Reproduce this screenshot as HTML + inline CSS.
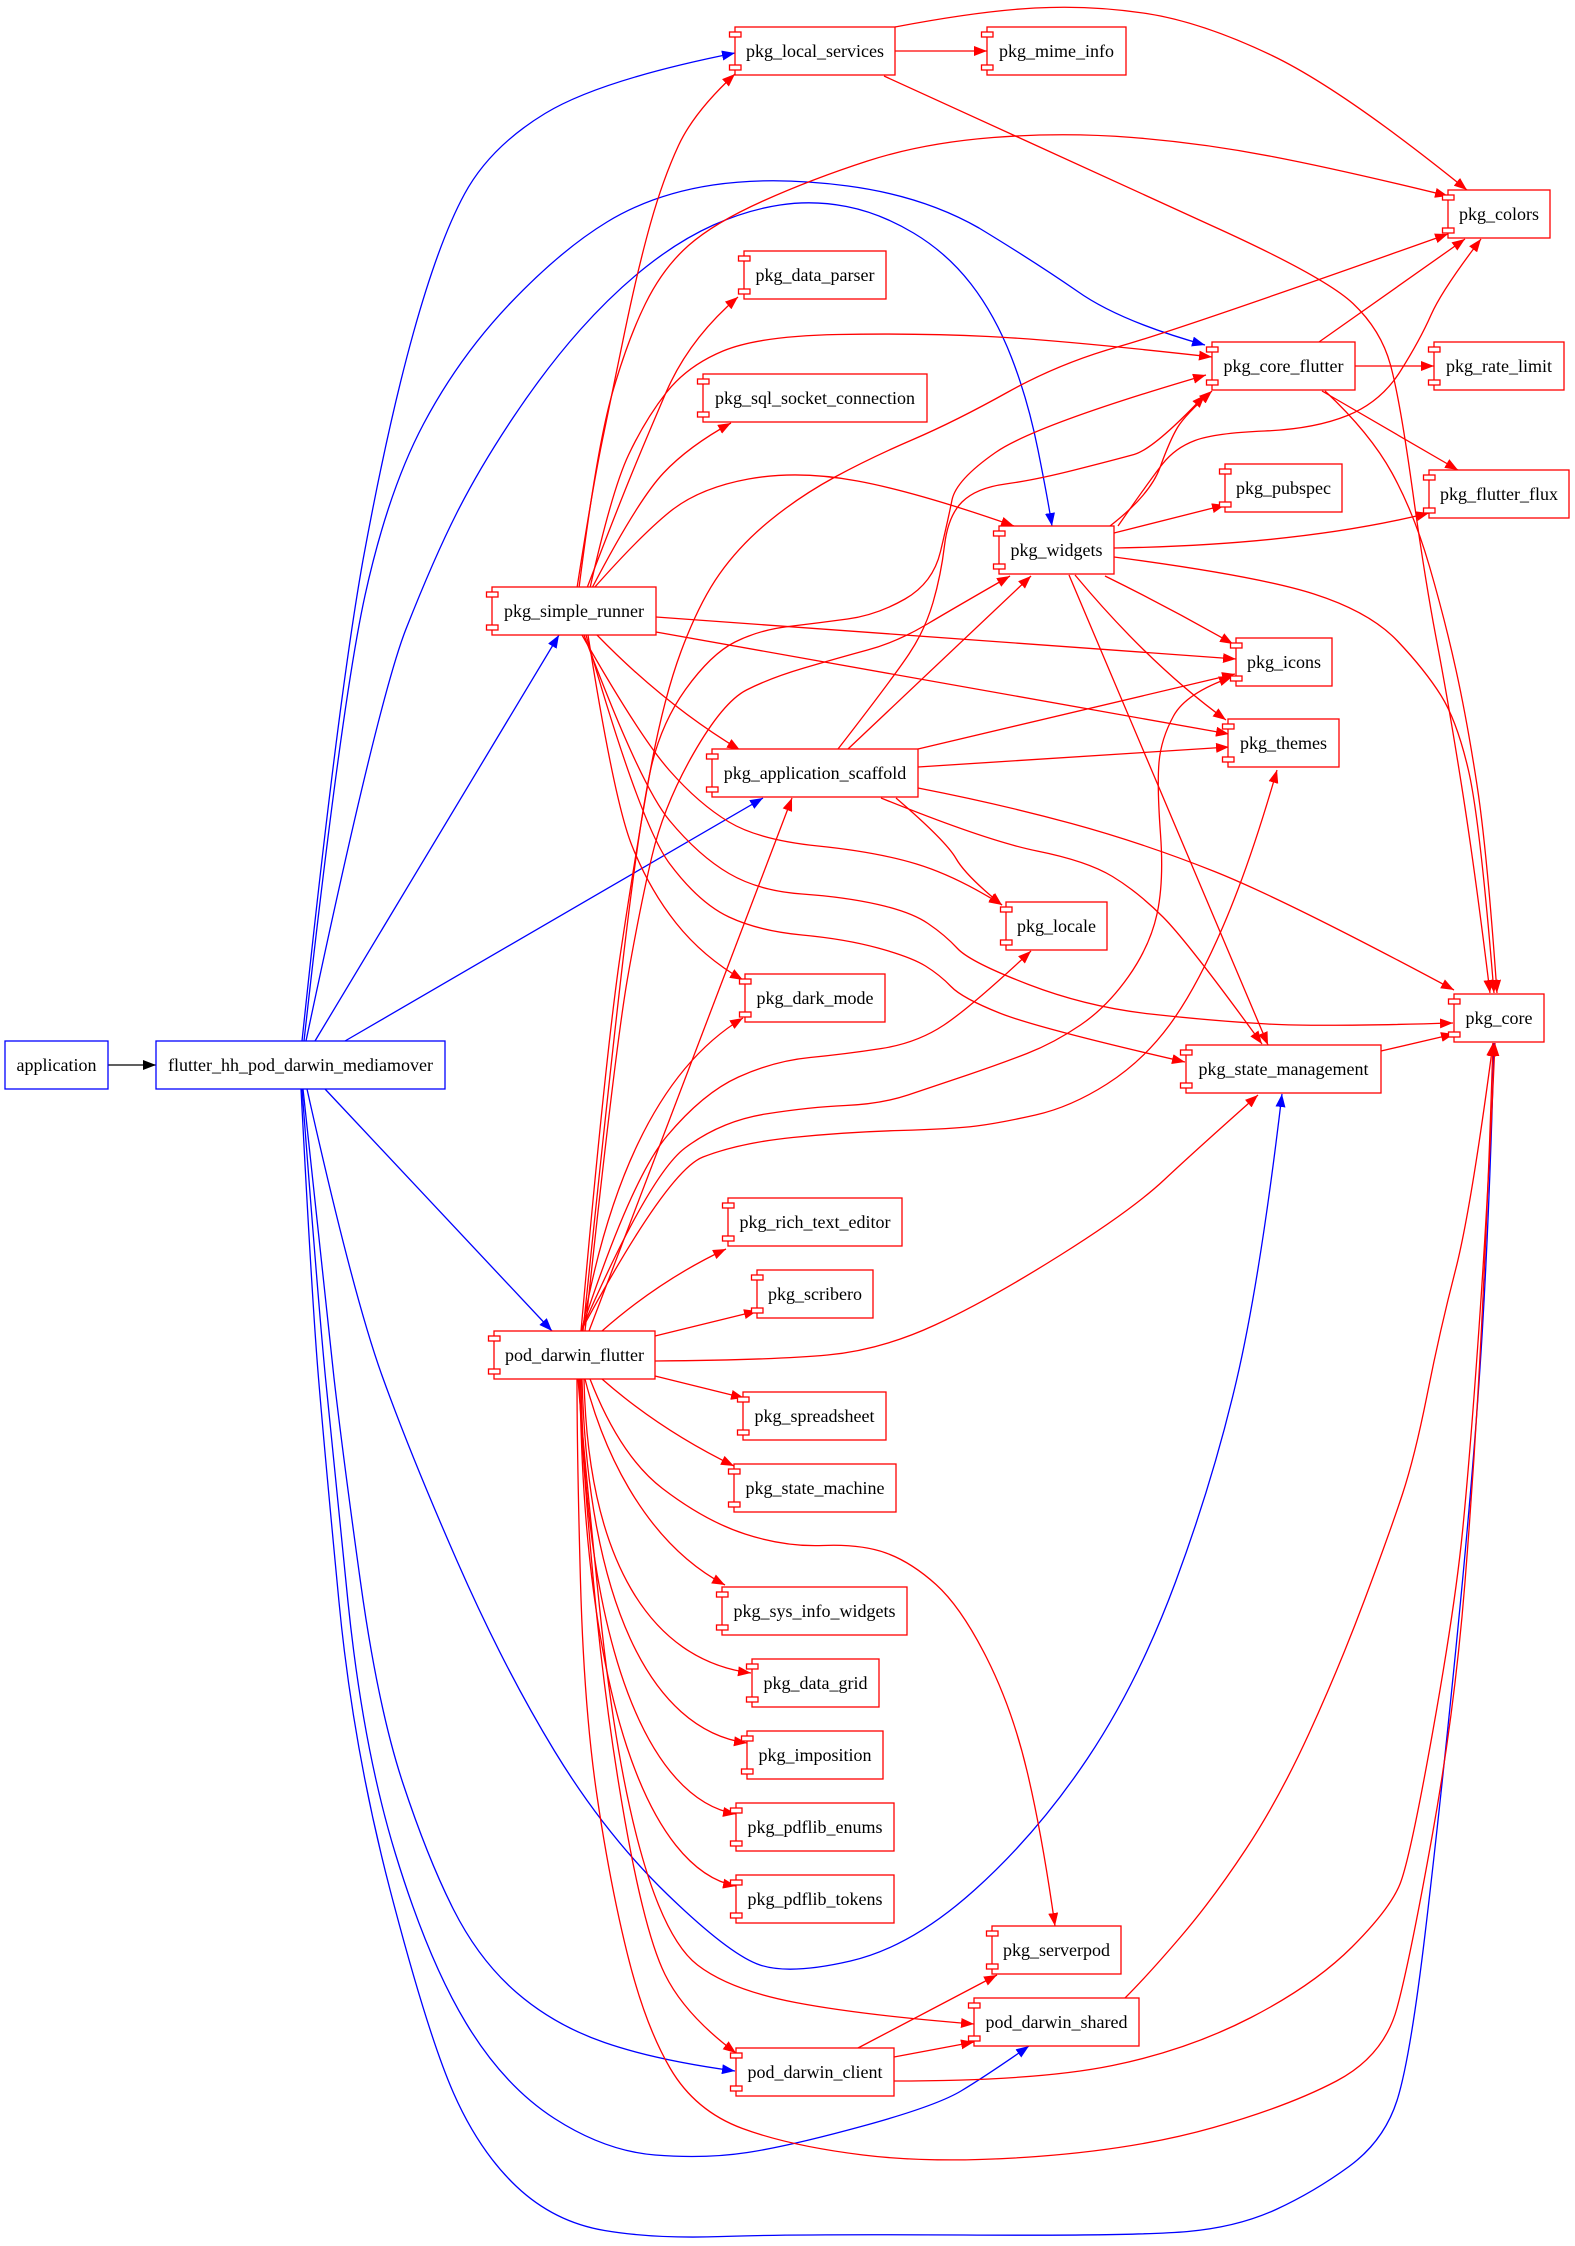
<!DOCTYPE html>
<html><head><meta charset="utf-8"><style>
body{margin:0;background:#fff}
svg{display:block}
text{font-family:"Liberation Serif","Times New Roman",serif;font-size:18px;fill:#000;stroke:none;text-anchor:middle}
.n rect{fill:#fff;stroke:#f00;stroke-width:1.3}
.b rect{fill:#fff;stroke:#00f;stroke-width:1.3}
</style></head><body>
<svg xmlns="http://www.w3.org/2000/svg" width="1575" height="2246">
<defs>
<marker id="ar" markerUnits="userSpaceOnUse" markerWidth="13" markerHeight="10" viewBox="0 0 13 10" refX="13" refY="5" orient="auto"><path d="M0,0L13,5L0,10z" fill="#f00"/></marker>
<marker id="ab" markerUnits="userSpaceOnUse" markerWidth="13" markerHeight="10" viewBox="0 0 13 10" refX="13" refY="5" orient="auto"><path d="M0,0L13,5L0,10z" fill="#00f"/></marker>
<marker id="ak" markerUnits="userSpaceOnUse" markerWidth="13" markerHeight="10" viewBox="0 0 13 10" refX="13" refY="5" orient="auto"><path d="M0,0L13,5L0,10z" fill="#000"/></marker>
</defs>
<rect width="1575" height="2246" fill="#fff"/>

<path d="M108,1065 L156,1065" fill="none" stroke="#000" stroke-width="1.3" marker-end="url(#ak)"/>

<g fill="none" stroke="#00f" stroke-width="1.3" marker-end="url(#ab)">
<path d="M302,1041 Q338,700 363,560 Q388,424 413.5,332.5 Q439,241 464.5,194 Q490,147 545,113.5 Q600,80 735,53"/>
<path d="M304,1041 Q342,700 365,595.5 Q388,491 423.5,424 Q459,357 510,303.5 Q561,250 607,222 Q653,194 713,185 Q773,176 848,186 Q923,196 979,228 Q1035,262 1077,291 Q1119,321 1205,345"/>
<path d="M306,1041 Q378,700 406,629 Q434,558 457,512.5 Q480,467 513.5,417 Q547,367 580,330 Q613,293 646.5,266.5 Q680,240 713.5,225 Q747,210 780,205 Q813,200 846.5,206.5 Q880,213 913.5,233 Q947,253 971,284 Q995,315 1011.5,357.5 Q1028,400 1038,450 Q1048,500 1052,526"/>
<path d="M315,1041 L559,635"/>
<path d="M345,1041 L763,798"/>
<path d="M325,1089 L552,1331"/>
<path d="M307,1089 Q353,1295 382,1375.5 Q411,1456 457.5,1562 Q504,1668 554.5,1751 Q605,1834 667.5,1894.5 Q730,1955 760,1965 Q790,1975 850.5,1961 Q911,1947 974,1890.5 Q1037,1834 1087.5,1758.5 Q1138,1683 1175.5,1582 Q1213,1481 1236.5,1380.5 Q1260,1280 1282,1094"/>
<path d="M303,1089 Q325,1300 334,1378 Q343,1456 360.5,1582 Q378,1708 403,1783.5 Q428,1859 453.5,1909.5 Q479,1960 516.5,1992.5 Q554,2025 604.5,2042.5 Q655,2060 735,2071"/>
<path d="M302,1089 Q318,1300 325.5,1378 Q333,1456 348,1602 Q363,1748 395.5,1854 Q428,1960 466,2023 Q504,2086 554.5,2118.5 Q605,2151 655,2155 Q705,2159 747.5,2152.5 Q790,2146 863,2126 Q936,2106 961,2091 Q986,2076 1029,2046"/>
<path d="M301,1089 Q312,1300 318.5,1378 Q325,1456 339,1602 Q353,1748 390.5,1891.5 Q428,2035 453.5,2093 Q479,2151 516.5,2186.5 Q554,2222 604.5,2230.5 Q655,2239 722.5,2236.5 Q790,2234 964,2235 Q1138,2236 1188,2231.5 Q1238,2227 1276,2209.5 Q1314,2192 1349,2166.5 Q1384,2141 1397,2100.5 Q1410,2060 1425,1934.5 Q1440,1809 1457.5,1632.5 Q1475,1456 1482.5,1328 Q1490,1200 1494,1043"/>
</g>

<g fill="none" stroke="#f00" stroke-width="1.3" marker-end="url(#ar)">
<!-- simple_runner -->
<path d="M577,588 Q592,491 602,442 Q612,393 625,330.5 Q638,268 650.5,223.5 Q663,179 678.5,145.5 Q694,112 735,74"/>
<path d="M579,588 Q597,446 612.5,392.5 Q628,339 645.5,303.5 Q663,268 688.5,245.5 Q714,223 763,201 Q812,179 867.5,161 Q923,143 993,137.5 Q1063,132 1132.5,137.5 Q1202,143 1272,156.5 Q1342,170 1448,196"/>
<path d="M587,588 Q615,515 629,480.5 Q643,446 666,392.5 Q689,339 738,297"/>
<path d="M590,588 Q612,490 628.5,455 Q645,420 666,393 Q687,366 723,351 Q759,336 838,334.5 Q917,333 988.5,336.5 Q1060,340 1212,357"/>
<path d="M592,588 Q638,500 663.5,473 Q689,446 731,423"/>
<path d="M594,588 Q640,536 669.5,512 Q699,488 748.5,479 Q798,470 857.5,481 Q917,492 1014,526"/>
<path d="M656,617 L1236,659"/>
<path d="M656,632 L1229,734"/>
<path d="M597,635 Q665,705 740,750"/>
<path d="M582,635 Q640,737 669.5,770.5 Q699,804 729,822 Q759,840 818,846 Q877,852 916.5,864 Q956,876 1002,905"/>
<path d="M584,635 Q640,785 669.5,820.5 Q699,856 729,873.5 Q759,891 802,894 Q845,897 878,904.5 Q911,912 928,923.5 Q945,935 957.5,948.5 Q970,962 1028.5,984.5 Q1087,1007 1150.5,1014 Q1214,1021 1267.5,1024 Q1321,1027 1453,1023"/>
<path d="M586,635 Q640,824 669.5,863.5 Q699,903 729,917 Q759,931 802,935 Q845,939 878,948 Q911,957 925.5,966 Q940,975 951,986.5 Q962,998 999.5,1013 Q1037,1028 1185,1062"/>
<path d="M588,635 Q614,800 631.5,844.5 Q649,889 676,923 Q703,957 743,980"/>
<!-- local_services -->
<path d="M895,51 L987,51"/>
<path d="M895,27 Q979,11 1035,8 Q1091,5 1146.5,13.5 Q1202,22 1272,55.5 Q1342,89 1467,190"/>
<path d="M884,76 Q1100,175 1212.5,226 Q1325,277 1353,303.5 Q1381,330 1390.5,365 Q1400,400 1412.5,490 Q1425,580 1436.5,640 Q1448,700 1461.5,785 Q1475,870 1490,993"/>
<!-- core_flutter -->
<path d="M1319,342 L1465,239"/>
<path d="M1355,366 L1434,366"/>
<path d="M1322,391 L1458,470"/>
<path d="M1325,391 Q1370,433 1392,473 Q1414,513 1429.5,566.5 Q1445,620 1456,670 Q1467,720 1477,785 Q1487,850 1497,993"/>
<!-- widgets -->
<path d="M1110,526 Q1150,495 1160,467.5 Q1170,440 1177.5,427.5 Q1185,415 1212,391"/>
<path d="M1118,526 Q1150,480 1162.5,464 Q1175,448 1195,440.5 Q1215,433 1264.5,431 Q1314,429 1347.5,415.5 Q1381,402 1400.5,371 Q1420,340 1431,315 Q1442,290 1481,239"/>
<path d="M1114,533 L1225,505"/>
<path d="M1114,548 Q1300,545 1429,513"/>
<path d="M1114,557 Q1258,576 1314,594 Q1370,612 1397.5,641 Q1425,670 1441,695.5 Q1457,721 1468.5,770.5 Q1480,820 1494,993"/>
<path d="M1105,576 Q1170,608 1233,644"/>
<path d="M1075,575 Q1150,665 1226,720"/>
<path d="M1069,575 L1268,1045"/>
<!-- application_scaffold -->
<path d="M848,749 L1031,576"/>
<path d="M838,749 Q893,678 909,654 Q925,630 933,602.5 Q941,575 944.5,545.5 Q948,516 962,502 Q976,488 1005.5,484 Q1035,480 1074.5,470 Q1114,460 1134,454.5 Q1154,449 1205,395"/>
<path d="M918,749 L1235,674"/>
<path d="M918,767 L1229,747"/>
<path d="M918,788 Q1000,804 1071.5,823.5 Q1143,843 1214.5,871.5 Q1286,900 1454,990"/>
<path d="M881,798 Q987,841 1037,851 Q1087,861 1112.5,876.5 Q1138,892 1163,917 Q1188,942 1262,1044"/>
<path d="M896,798 Q946,841 956,858.5 Q966,876 1002,905"/>
<!-- pod_darwin_flutter -->
<path d="M581,1331 Q606,1050 621,950 Q636,850 649.5,775 Q663,700 681,651.5 Q699,603 719.5,574 Q740,545 770,520.5 Q800,496 835,477 Q870,458 913,439.5 Q956,421 1008,392 Q1060,363 1119,346.5 Q1178,330 1448,234"/>
<path d="M583,1331 Q612,1050 626,935 Q640,820 650,772.5 Q660,725 685.5,689.5 Q711,654 735,642 Q759,630 788.5,626.5 Q818,623 847.5,619 Q877,615 905,599 Q933,583 940.5,551.5 Q948,520 952,500 Q956,480 995.5,452.5 Q1035,425 1206,375"/>
<path d="M585,1331 Q615,1050 627.5,978.5 Q640,907 652,856 Q664,805 693.5,753.5 Q723,702 746.5,690 Q770,678 804,668 Q838,658 867.5,650 Q897,642 926.5,624.5 Q956,607 1010,576"/>
<path d="M589,1331 L792,798"/>
<path d="M582,1331 C600,1230 640,1080 743,1018"/>
<path d="M581,1331 Q631,1179 667,1136 Q703,1093 738.5,1077 Q774,1061 810,1057.5 Q846,1054 881.5,1048.5 Q917,1043 944,1025 Q971,1007 1031,951"/>
<path d="M581,1331 Q649,1175 685,1148 Q721,1121 765.5,1114 Q810,1107 845.5,1105.5 Q881,1104 908,1095 Q935,1086 967.5,1075 Q1000,1064 1027,1053.5 Q1054,1043 1080.5,1025 Q1107,1007 1128.5,976.5 Q1150,946 1157,914 Q1164,882 1160.5,834 Q1157,786 1159,762.5 Q1161,739 1173.5,716 Q1186,693 1232,677"/>
<path d="M581,1331 Q667,1171 703,1157 Q739,1143 792.5,1137.5 Q846,1132 899.5,1130.5 Q953,1129 976.5,1126 Q1000,1123 1035.5,1115 Q1071,1107 1107,1084 Q1143,1061 1169.5,1025 Q1196,989 1223,926.5 Q1250,864 1277,770"/>
<path d="M655,1361 Q774,1360 827.5,1355 Q881,1350 935,1325 Q989,1300 1060.5,1255 Q1132,1210 1164,1180 Q1196,1150 1258,1095"/>
<path d="M602,1331 Q660,1280 726,1249"/>
<path d="M655,1336 L757,1311"/>
<path d="M655,1376 L744,1398"/>
<path d="M602,1379 Q660,1430 734,1466"/>
<path d="M585,1379 C600,1440 640,1540 725,1585"/>
<path d="M584,1379 C588,1560 650,1660 751,1673"/>
<path d="M582,1379 C588,1600 650,1730 747,1743"/>
<path d="M581,1379 C585,1650 650,1800 736,1814"/>
<path d="M580,1379 C583,1700 650,1870 736,1886"/>
<path d="M590,1379 Q620,1456 662.5,1488.5 Q705,1521 745,1534 Q785,1547 823,1545.5 Q861,1544 886,1553 Q911,1562 936,1584.5 Q961,1607 986.5,1657.5 Q1012,1708 1027,1771 Q1042,1834 1055,1926"/>
<path d="M579,1379 Q582,1456 593.5,1582 Q605,1708 625,1821 Q645,1934 665,1974.5 Q685,2015 736,2053"/>
<path d="M578,1379 Q584,1456 599.5,1607 Q615,1758 640,1849 Q665,1940 697.5,1965 Q730,1990 795.5,2002.5 Q861,2015 974,2024"/>
<path d="M577,1379 Q577,1456 580.5,1582 Q584,1708 597,1796 Q610,1884 627.5,1954.5 Q645,2025 670,2068 Q695,2111 742.5,2128.5 Q790,2146 863,2155 Q936,2164 1037,2156.5 Q1138,2149 1213.5,2127.5 Q1289,2106 1336.5,2081 Q1384,2056 1397,2008 Q1410,1960 1432.5,1834 Q1455,1708 1465,1582 Q1475,1456 1481.5,1328 Q1488,1200 1493,1043"/>
<!-- pod_darwin_client -->
<path d="M894,2057 L974,2042"/>
<path d="M858,2048 L997,1975"/>
<path d="M894,2081 Q1037,2081 1112.5,2065.5 Q1188,2050 1251,2017.5 Q1314,1985 1352,1947 Q1390,1909 1400,1884 Q1410,1859 1432.5,1733 Q1455,1607 1462.5,1531.5 Q1470,1456 1479,1328 Q1488,1200 1495,1043"/>
<!-- pod_darwin_shared -->
<path d="M1125,1998 Q1148,1975 1180.5,1937 Q1213,1899 1246,1849 Q1279,1799 1309,1733.5 Q1339,1668 1364.5,1600 Q1390,1532 1402.5,1494 Q1415,1456 1427.5,1393 Q1440,1330 1455.5,1270 Q1471,1210 1493,1043"/>
<!-- state_management -->
<path d="M1381,1051 L1454,1034"/>
</g>

<!-- blue nodes -->
<g class="b">
<g transform="translate(5,1041)"><rect width="103" height="48"/><text x="51.5" y="30">application</text></g>
<g transform="translate(156,1041)"><rect width="289" height="48"/><text x="144.5" y="30">flutter_hh_pod_darwin_mediamover</text></g>
</g>

<!-- component nodes -->
<g class="n">
<g transform="translate(735,27)"><rect width="160" height="48"/><rect x="-5.5" y="5" width="11.5" height="5"/><rect x="-5.5" y="38" width="11.5" height="5"/><text x="80" y="30">pkg_local_services</text></g>
<g transform="translate(987,27)"><rect width="139" height="48"/><rect x="-5.5" y="5" width="11.5" height="5"/><rect x="-5.5" y="38" width="11.5" height="5"/><text x="69.5" y="30">pkg_mime_info</text></g>
<g transform="translate(1448,190)"><rect width="102" height="48"/><rect x="-5.5" y="5" width="11.5" height="5"/><rect x="-5.5" y="38" width="11.5" height="5"/><text x="51" y="30">pkg_colors</text></g>
<g transform="translate(744,251)"><rect width="142" height="48"/><rect x="-5.5" y="5" width="11.5" height="5"/><rect x="-5.5" y="38" width="11.5" height="5"/><text x="71" y="30">pkg_data_parser</text></g>
<g transform="translate(1212,342)"><rect width="143" height="48"/><rect x="-5.5" y="5" width="11.5" height="5"/><rect x="-5.5" y="38" width="11.5" height="5"/><text x="71.5" y="30">pkg_core_flutter</text></g>
<g transform="translate(1434,342)"><rect width="130" height="48"/><rect x="-5.5" y="5" width="11.5" height="5"/><rect x="-5.5" y="38" width="11.5" height="5"/><text x="65" y="30">pkg_rate_limit</text></g>
<g transform="translate(703,374)"><rect width="224" height="48"/><rect x="-5.5" y="5" width="11.5" height="5"/><rect x="-5.5" y="38" width="11.5" height="5"/><text x="112" y="30">pkg_sql_socket_connection</text></g>
<g transform="translate(1225,464)"><rect width="117" height="48"/><rect x="-5.5" y="5" width="11.5" height="5"/><rect x="-5.5" y="38" width="11.5" height="5"/><text x="58.5" y="30">pkg_pubspec</text></g>
<g transform="translate(1429,470)"><rect width="140" height="48"/><rect x="-5.5" y="5" width="11.5" height="5"/><rect x="-5.5" y="38" width="11.5" height="5"/><text x="70" y="30">pkg_flutter_flux</text></g>
<g transform="translate(999,526)"><rect width="115" height="48"/><rect x="-5.5" y="5" width="11.5" height="5"/><rect x="-5.5" y="38" width="11.5" height="5"/><text x="57.5" y="30">pkg_widgets</text></g>
<g transform="translate(492,587)"><rect width="164" height="48"/><rect x="-5.5" y="5" width="11.5" height="5"/><rect x="-5.5" y="38" width="11.5" height="5"/><text x="82" y="30">pkg_simple_runner</text></g>
<g transform="translate(1236,638)"><rect width="96" height="48"/><rect x="-5.5" y="5" width="11.5" height="5"/><rect x="-5.5" y="38" width="11.5" height="5"/><text x="48" y="30">pkg_icons</text></g>
<g transform="translate(1228,719)"><rect width="111" height="48"/><rect x="-5.5" y="5" width="11.5" height="5"/><rect x="-5.5" y="38" width="11.5" height="5"/><text x="55.5" y="30">pkg_themes</text></g>
<g transform="translate(712,749)"><rect width="206" height="48"/><rect x="-5.5" y="5" width="11.5" height="5"/><rect x="-5.5" y="38" width="11.5" height="5"/><text x="103" y="30">pkg_application_scaffold</text></g>
<g transform="translate(1006,902)"><rect width="101" height="48"/><rect x="-5.5" y="5" width="11.5" height="5"/><rect x="-5.5" y="38" width="11.5" height="5"/><text x="50.5" y="30">pkg_locale</text></g>
<g transform="translate(745,974)"><rect width="140" height="48"/><rect x="-5.5" y="5" width="11.5" height="5"/><rect x="-5.5" y="38" width="11.5" height="5"/><text x="70" y="30">pkg_dark_mode</text></g>
<g transform="translate(1454,994)"><rect width="90" height="48"/><rect x="-5.5" y="5" width="11.5" height="5"/><rect x="-5.5" y="38" width="11.5" height="5"/><text x="45" y="30">pkg_core</text></g>
<g transform="translate(1186,1045)"><rect width="195" height="48"/><rect x="-5.5" y="5" width="11.5" height="5"/><rect x="-5.5" y="38" width="11.5" height="5"/><text x="97.5" y="30">pkg_state_management</text></g>
<g transform="translate(728,1198)"><rect width="174" height="48"/><rect x="-5.5" y="5" width="11.5" height="5"/><rect x="-5.5" y="38" width="11.5" height="5"/><text x="87" y="30">pkg_rich_text_editor</text></g>
<g transform="translate(757,1270)"><rect width="116" height="48"/><rect x="-5.5" y="5" width="11.5" height="5"/><rect x="-5.5" y="38" width="11.5" height="5"/><text x="58" y="30">pkg_scribero</text></g>
<g transform="translate(494,1331)"><rect width="161" height="48"/><rect x="-5.5" y="5" width="11.5" height="5"/><rect x="-5.5" y="38" width="11.5" height="5"/><text x="80.5" y="30">pod_darwin_flutter</text></g>
<g transform="translate(743,1392)"><rect width="143" height="48"/><rect x="-5.5" y="5" width="11.5" height="5"/><rect x="-5.5" y="38" width="11.5" height="5"/><text x="71.5" y="30">pkg_spreadsheet</text></g>
<g transform="translate(734,1464)"><rect width="162" height="48"/><rect x="-5.5" y="5" width="11.5" height="5"/><rect x="-5.5" y="38" width="11.5" height="5"/><text x="81" y="30">pkg_state_machine</text></g>
<g transform="translate(722,1587)"><rect width="185" height="48"/><rect x="-5.5" y="5" width="11.5" height="5"/><rect x="-5.5" y="38" width="11.5" height="5"/><text x="92.5" y="30">pkg_sys_info_widgets</text></g>
<g transform="translate(752,1659)"><rect width="127" height="48"/><rect x="-5.5" y="5" width="11.5" height="5"/><rect x="-5.5" y="38" width="11.5" height="5"/><text x="63.5" y="30">pkg_data_grid</text></g>
<g transform="translate(747,1731)"><rect width="136" height="48"/><rect x="-5.5" y="5" width="11.5" height="5"/><rect x="-5.5" y="38" width="11.5" height="5"/><text x="68" y="30">pkg_imposition</text></g>
<g transform="translate(736,1803)"><rect width="158" height="48"/><rect x="-5.5" y="5" width="11.5" height="5"/><rect x="-5.5" y="38" width="11.5" height="5"/><text x="79" y="30">pkg_pdflib_enums</text></g>
<g transform="translate(736,1875)"><rect width="158" height="48"/><rect x="-5.5" y="5" width="11.5" height="5"/><rect x="-5.5" y="38" width="11.5" height="5"/><text x="79" y="30">pkg_pdflib_tokens</text></g>
<g transform="translate(992,1926)"><rect width="129" height="48"/><rect x="-5.5" y="5" width="11.5" height="5"/><rect x="-5.5" y="38" width="11.5" height="5"/><text x="64.5" y="30">pkg_serverpod</text></g>
<g transform="translate(974,1998)"><rect width="165" height="48"/><rect x="-5.5" y="5" width="11.5" height="5"/><rect x="-5.5" y="38" width="11.5" height="5"/><text x="82.5" y="30">pod_darwin_shared</text></g>
<g transform="translate(736,2048)"><rect width="158" height="48"/><rect x="-5.5" y="5" width="11.5" height="5"/><rect x="-5.5" y="38" width="11.5" height="5"/><text x="79" y="30">pod_darwin_client</text></g>
</g>
</svg>
</body></html>
